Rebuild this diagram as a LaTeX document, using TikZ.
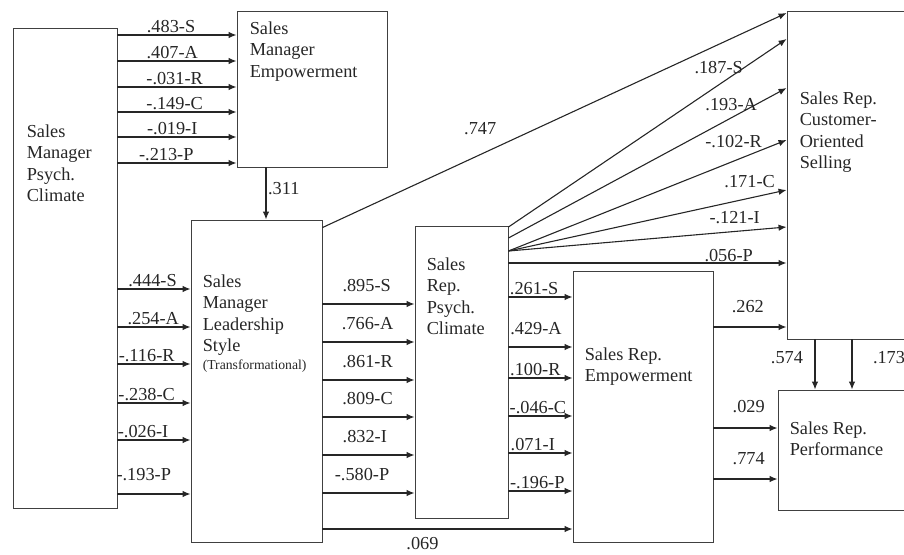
\documentclass[tikz,border=0pt]{standalone}
\usepackage{fontspec}
\setmainfont{Liberation Serif}
\usetikzlibrary{arrows.meta, positioning, calc}

\begin{document}
\begin{tikzpicture}[x=1pt, y=-1pt, font=\fontsize{18.3}{21.3}\selectfont, text=black!85]
\tikzstyle{block} = [rectangle, draw=black!75, line width=0.9pt, inner sep=0pt]
\tikzstyle{caption} = [inner sep=0pt, align=left, anchor=north west]
\tikzstyle{coef} = [inner sep=1.5pt]
\tikzstyle{line} = [draw, -{Latex[length=8pt, width=6.5pt]}, black!85, line width=1.1pt]

\useasboundingbox (0,0) rectangle (904,554);

% constructs
\node (smpc) [block, minimum width=104pt, minimum height=480pt] at (65,268) {};
\node (sme) [block, minimum width=150pt, minimum height=156pt] at (312,89) {};
\node (sml) [block, minimum width=131pt, minimum height=322pt] at (256.5,381) {};
\node (srpc) [block, minimum width=93pt, minimum height=292pt] at (461.5,372) {};
\node (sre) [block, minimum width=140pt, minimum height=271pt] at (643,406.5) {};
\node (cos) [block, minimum width=140pt, minimum height=328pt] at (857,175) {};
\node (perf) [block, minimum width=150pt, minimum height=120pt] at (853,450) {};

\node (smpcT) [caption] at ([shift={(14,97)}]smpc.north west) {Sales\\Manager\\Psych.\\Climate};
\node (smeT) [caption] at ([shift={(13,11)}]sme.north west) {Sales\\Manager\\Empowerment};
\node (smlT) [caption] at ([shift={(12,55)}]sml.north west) {Sales\\Manager\\Leadership\\Style\\[-3pt]{\fontsize{13.7}{15}\selectfont(Transformational)}};
\node (srpcT) [caption] at ([shift={(12,32)}]srpc.north west) {Sales\\Rep.\\Psych.\\Climate};
\node (sreT) [caption] at ([shift={(12,77)}]sre.north west) {Sales Rep.\\Empowerment};
\node (cosT) [caption] at ([shift={(13,81)}]cos.north west) {Sales Rep.\\Customer-\\Oriented\\Selling};
\node (perfT) [caption] at ([shift={(12,32)}]perf.north west) {Sales Rep.\\Performance};

% manager climate -> manager empowerment
\draw [line] (smpc.east |- 0,35) -- node (a1) [coef, above, pos=0.45] {.483-S} (sme.west |- 0,35);
\draw [line] (smpc.east |- 0,61) -- node (a2) [coef, above, pos=0.46] {.407-A} (sme.west |- 0,61);
\draw [line] (smpc.east |- 0,87) -- node (a3) [coef, above, pos=0.48] {-.031-R} (sme.west |- 0,87);
\draw [line] (smpc.east |- 0,112) -- node (a4) [coef, above, pos=0.48] {-.149-C} (sme.west |- 0,112);
\draw [line] (smpc.east |- 0,137) -- node (a5) [coef, above, pos=0.46] {-.019-I} (sme.west |- 0,137);
\draw [line] (smpc.east |- 0,163) -- node (a6) [coef, above, pos=0.41] {-.213-P} (sme.west |- 0,163);

% manager climate -> leadership
\draw [line] (smpc.east |- 0,289) -- node (b1) [coef, above, pos=0.48] {.444-S} (sml.west |- 0,289);
\draw [line] (smpc.east |- 0,327) -- node (b2) [coef, above, pos=0.49] {.254-A} (sml.west |- 0,327);
\draw [line] (smpc.east |- 0,364) -- node (b3) [coef, above, pos=0.40] {-.116-R} (sml.west |- 0,364);
\draw [line] (smpc.east |- 0,403) -- node (b4) [coef, above, pos=0.40] {-.238-C} (sml.west |- 0,403);
\draw [line] (smpc.east |- 0,440) -- node (b5) [coef, above, pos=0.35] {-.026-I} (sml.west |- 0,440);
\draw [line] (smpc.east |- 0,494) -- node (b6) [coef, above=11pt, pos=0.36] {-.193-P} (sml.west |- 0,494);

\draw [line] (sme.south -| 266,0) -- node (c0) [coef, right, pos=0.4] {.311} (sml.north -| 266,0);

% leadership -> rep climate
\draw [line] (sml.east |- 0,304) -- node (d1) [coef, above=10.5pt, pos=0.48] {.895-S} (srpc.west |- 0,304);
\draw [line] (sml.east |- 0,342) -- node (d2) [coef, above=10.5pt, pos=0.49] {.766-A} (srpc.west |- 0,342);
\draw [line] (sml.east |- 0,380) -- node (d3) [coef, above=10.5pt, pos=0.49] {.861-R} (srpc.west |- 0,380);
\draw [line] (sml.east |- 0,417) -- node (d4) [coef, above=10.5pt, pos=0.49] {.809-C} (srpc.west |- 0,417);
\draw [line] (sml.east |- 0,455) -- node (d5) [coef, above=10.5pt, pos=0.46] {.832-I} (srpc.west |- 0,455);
\draw [line] (sml.east |- 0,493) -- node (d6) [coef, above=10.5pt, pos=0.43] {-.580-P} (srpc.west |- 0,493);

\draw [line] (sml.east |- 0,529) -- node (e0) [coef, below=6.5pt, pos=0.40] {.069} (sre.west |- 0,529);
\draw [line] ([yshift=-8pt]sml.north east) -- node (f0) [coef, above=18pt, pos=0.34] {.747} (cos.west |- 0,13);

% rep climate -> rep empowerment
\draw [line] (srpc.east |- 0,297) -- node (g1) [coef, above, pos=0.40] {.261-S} (sre.west |- 0,297);
\draw [line] (srpc.east |- 0,347) -- node (g2) [coef, above=10pt, pos=0.43] {.429-A} (sre.west |- 0,347);
\draw [line] (srpc.east |- 0,378) -- node (g3) [coef, above, pos=0.42] {.100-R} (sre.west |- 0,378);
\draw [line] (srpc.east |- 0,416) -- node (g4) [coef, above, pos=0.46] {-.046-C} (sre.west |- 0,416);
\draw [line] (srpc.east |- 0,453) -- node (g5) [coef, above, pos=0.38] {.071-I} (sre.west |- 0,453);
\draw [line] (srpc.east |- 0,491) -- node (g6) [coef, above, pos=0.45] {-.196-P} (sre.west |- 0,491);

% rep climate -> selling
\draw [line] (srpc.east |- 0,227) -- (cos.west |- 0,39);
\draw [line] (srpc.east |- 0,238) -- (cos.west |- 0,88);
\draw [line] (srpc.east |- 0,251) -- (cos.west |- 0,140);
\draw [line] (srpc.east |- 0,251) -- (cos.west |- 0,190);
\draw [line] (srpc.east |- 0,251) -- (cos.west |- 0,227);
\draw [line] (srpc.east |- 0,263) -- (cos.west |- 0,263);
\node (h1) [inner sep=0pt, anchor=base east] at (743,73) {.187-S};
\node (h2) [inner sep=0pt, anchor=base east] at (757,110) {.193-A};
\node (h3) [inner sep=0pt, anchor=base east] at (762,147) {-.102-R};
\node (h4) [inner sep=0pt, anchor=base east] at (775,187) {.171-C};
\node (h5) [inner sep=0pt, anchor=base east] at (760,223) {-.121-I};
\node (h6) [inner sep=0pt, anchor=base east] at (753,261) {.056-P};

% rep empowerment -> selling, performance
\draw [line] (sre.east |- 0,327) -- node (k1) [coef, above=12pt, pos=0.47] {.262} (cos.west |- 0,327);
\draw [line] (sre.east |- 0,428) -- node (k2) [coef, above=13.5pt, pos=0.55] {.029} (perf.west |- 0,428);
\draw [line] (sre.east |- 0,479) -- node (k3) [coef, above=12.5pt, pos=0.55] {.774} (perf.west |- 0,479);

% selling -> performance
\draw [line] (cos.south -| 815,0) -- (perf.north -| 815,0);
\draw [line] (cos.south -| 852,0) -- (perf.north -| 852,0);
\node (m1) [inner sep=0pt] at (787,358) {.574};
\node (m2) [inner sep=0pt] at (889,358) {.173};
\end{tikzpicture}
\end{document}
